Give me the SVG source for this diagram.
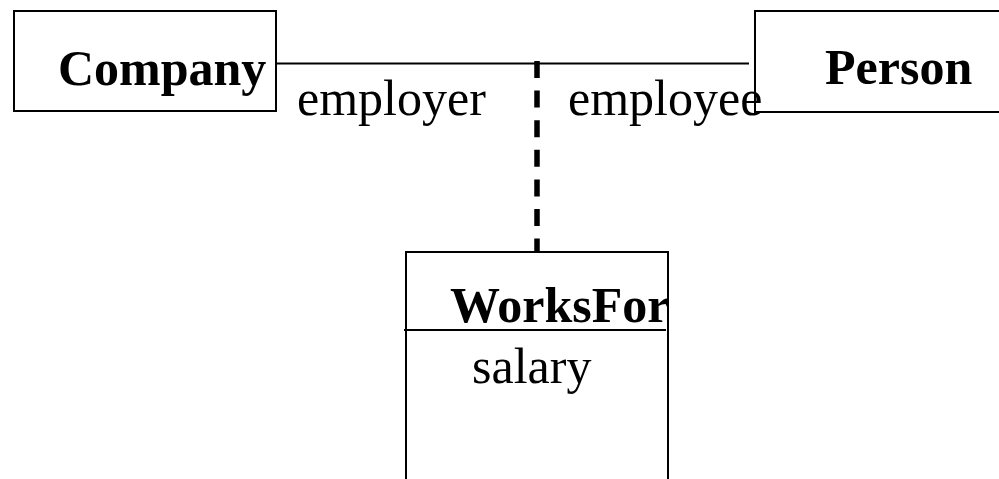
<svg xmlns="http://www.w3.org/2000/svg" width="999" height="479" viewBox="0 0 999 479">
  <style>
    .box { fill: #fff; stroke: #000; stroke-width: 2; }
    .edge { fill: none; stroke: #000; stroke-width: 2; }
    .dash { fill: none; stroke: #000; stroke-width: 5.5; stroke-dasharray: 17 12.6; }
    .name { font-family: "Liberation Serif", "Times New Roman", serif; font-weight: bold; font-size: 50px; fill: #000; }
    .lbl { font-family: "Liberation Serif", "Times New Roman", serif; font-size: 50px; fill: #000; }
  </style>
  <rect width="999" height="479" fill="#fff"/>
  <!-- association and association-class link -->
  <g id="connectors">
    <line class="edge" x1="276" y1="63.5" x2="749" y2="63.5"/>
    <line class="dash" x1="537" y1="61" x2="537" y2="256"/>
  </g>
  <g id="company">
    <rect class="box" x="14" y="11" width="262" height="100"/>
    <text class="name" x="58" y="85">Company</text>
  </g>
  <g id="person">
    <rect class="box" x="755" y="11" width="260" height="101"/>
    <text class="name" x="825" y="84">Person</text>
  </g>
  <g id="worksfor">
    <rect class="box" x="406" y="252" width="262" height="250"/>
    <line class="edge" x1="404" y1="330" x2="666" y2="330"/>
    <text class="name" x="450" y="322">WorksFor</text>
    <text class="lbl" x="472" y="383">salary</text>
  </g>
  <!-- role labels -->
  <g id="roles">
    <text class="lbl" x="297" y="115">employer</text>
    <text class="lbl" x="568" y="115">employee</text>
  </g>
</svg>
